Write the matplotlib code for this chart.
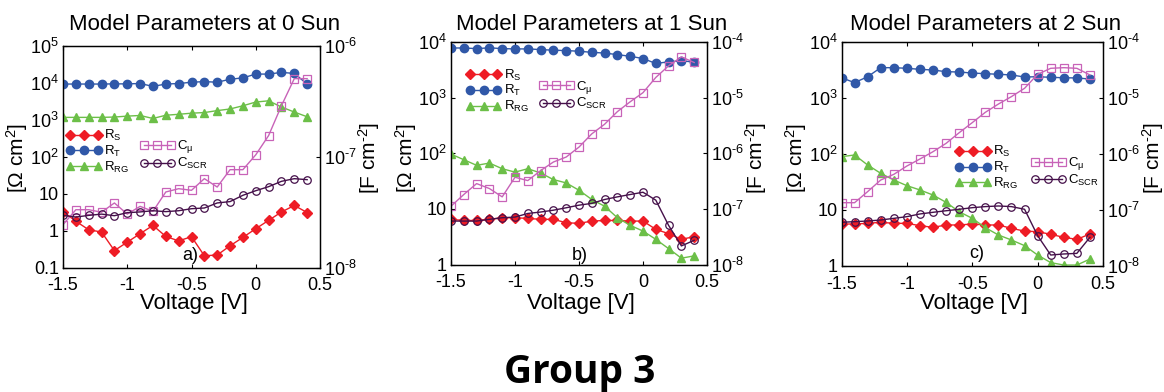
import matplotlib
matplotlib.use("Agg")
import matplotlib.pyplot as plt
from matplotlib.ticker import FixedLocator, FixedFormatter, NullLocator

plt.rcParams['font.family'] = ['Liberation Sans', 'DejaVu Sans']
plt.rcParams['mathtext.fontset'] = 'custom'
plt.rcParams['mathtext.rm'] = 'Liberation Sans'
plt.rcParams['mathtext.it'] = 'Liberation Sans:italic'
plt.rcParams['mathtext.bf'] = 'Liberation Sans:bold'

# ---------------- data ----------------
voltage = [-1.5, -1.4, -1.3, -1.2, -1.1, -1.0, -0.9, -0.8, -0.7, -0.6,
           -0.5, -0.4, -0.3, -0.2, -0.1, 0.0, 0.1, 0.2, 0.3, 0.4]

# 0 Sun
rs_0 = [3.3, 1.8, 1.06, 0.92, 0.29, 0.49, 0.83, 1.39, 0.70, 0.53,
        0.69, 0.21, 0.22, 0.39, 0.66, 1.13, 1.9, 3.2, 4.8, 3.1]
rt_0 = [9200, 9200, 9200, 9200, 9300, 9300, 9500, 7960, 9200, 9500,
        10300, 10700, 10300, 12400, 13500, 17100, 17100, 19000, 17800, 9200]
rrg_0 = [1156, 1156, 1156, 1156, 1180, 1250, 1300, 1080, 1320, 1400,
         1500, 1560, 1760, 1950, 2380, 3000, 3240, 2200, 1610, 1200]
cmu_0 = [2.44e-8, 3.33e-8, 3.33e-8, 3.16e-8, 3.83e-8, 3.04e-8, 3.57e-8, 3.22e-8, 4.81e-8, 5.15e-8,
         4.98e-8, 6.34e-8, 5.33e-8, 7.64e-8, 7.64e-8, 1.04e-7, 1.55e-7, 2.88e-7, 5.05e-7, 5.05e-7]
cscr_0 = [2.96e-8, 2.86e-8, 2.96e-8, 3.04e-8, 2.94e-8, 3.13e-8, 3.18e-8, 3.26e-8, 3.20e-8, 3.26e-8,
          3.40e-8, 3.45e-8, 3.83e-8, 3.94e-8, 4.49e-8, 4.94e-8, 5.37e-8, 6.00e-8, 6.34e-8, 6.21e-8]

# 1 Sun
rs_1 = [6.5, 6.2, 6.2, 6.5, 6.95, 6.95, 6.76, 6.5, 6.5, 5.65,
        5.5, 6.05, 6.2, 6.2, 6.05, 6.05, 4.3, 3.59, 2.84, 3.17]
rt_1 = [7900, 7900, 7700, 7950, 7700, 7600, 7600, 7400, 7200, 7100,
        6900, 6600, 6400, 6000, 5600, 5100, 4160, 4450, 4650, 4400]
rrg_1 = [97, 77, 61, 67, 53, 46, 53, 44.4, 33.8, 29.4,
         21.7, 14.8, 11.2, 6.95, 5.06, 4.0, 2.84, 1.93, 1.30, 1.43]
cmu_1 = [1.12e-7, 1.82e-7, 2.86e-7, 2.33e-7, 1.65e-7, 3.72e-7, 3.24e-7, 4.9e-7, 7.0e-7, 8.6e-7,
         1.30e-6, 2.25e-6, 3.35e-6, 5.65e-6, 8.5e-6, 1.24e-5, 2.33e-5, 3.77e-5, 5.46e-5, 4.33e-5]
cscr_1 = [6.05e-8, 6.05e-8, 6.05e-8, 6.5e-8, 6.95e-8, 7.14e-8, 8.3e-8, 8.8e-8, 9.5e-8, 1.05e-7,
          1.17e-7, 1.26e-7, 1.48e-7, 1.65e-7, 1.82e-7, 2.0e-7, 1.44e-7, 5.06e-8, 2.16e-8, 2.73e-8]

# 2 Sun
rs_2 = [5.62, 5.62, 5.78, 6.03, 5.78, 5.78, 5.25, 4.9, 5.4, 5.4,
        5.62, 5.4, 5.4, 4.7, 4.2, 4.1, 3.68, 3.25, 2.99, 3.73]
rt_2 = [2300, 1880, 2400, 3480, 3480, 3390, 3250, 3160, 2950, 2910,
        2790, 2720, 2650, 2580, 2370, 2400, 2340, 2300, 2280, 2180]
rrg_2 = [89.6, 96, 63.6, 45.2, 34.3, 27.2, 22.8, 18.5, 13.7, 9.3,
         7.1, 4.84, 3.58, 2.91, 2.31, 1.57, 1.15, 1.04, 1.04, 1.33]
cmu_2 = [1.35e-7, 1.35e-7, 2.13e-7, 3.43e-7, 4.33e-7, 6.1e-7, 8.15e-7, 1.10e-6, 1.55e-6, 2.40e-6,
         3.63e-6, 5.55e-6, 7.8e-6, 1.06e-5, 1.49e-5, 2.65e-5, 3.39e-5, 3.48e-5, 3.39e-5, 2.58e-5]
cscr_2 = [6.03e-8, 6.19e-8, 6.36e-8, 6.63e-8, 7.1e-8, 7.6e-8, 8.5e-8, 9.1e-8, 9.7e-8, 1.03e-7,
          1.10e-7, 1.15e-7, 1.18e-7, 1.15e-7, 1.03e-7, 3.48e-8, 1.57e-8, 1.64e-8, 1.68e-8, 3.25e-8]

titles = ["Model Parameters at 0 Sun", "Model Parameters at 1 Sun", "Model Parameters at 2 Sun"]
panel_tags = ["a)", "b)", "c)"]
x_ticks = [-1.5, -1.0, -0.5, 0.0, 0.5]
x_ticklabels = ["-1.5", "-1", "-0.5", "0", "0.5"]
left_ticks_a = [0.1, 1, 10, 1e2, 1e3, 1e4, 1e5]
left_labels_a = ["0.1", "1", "10", "$10^{2}$", "$10^{3}$", "$10^{4}$", "$10^{5}$"]
right_ticks_a = [1e-8, 1e-7, 1e-6]
right_labels_a = ["$10^{\u20108}$", "$10^{\u20107}$", "$10^{\u20106}$"]
left_ticks_bc = [1, 10, 1e2, 1e3, 1e4]
left_labels_bc = ["1", "10", "$10^{2}$", "$10^{3}$", "$10^{4}$"]
right_ticks_bc = [1e-8, 1e-7, 1e-6, 1e-5, 1e-4]
right_labels_bc = ["$10^{\u20108}$", "$10^{\u20107}$", "$10^{\u20106}$", "$10^{\u20105}$", "$10^{\u20104}$"]

series_labels = [r"R$_\mathregular{S}$", r"R$_\mathregular{T}$", r"R$_\mathregular{RG}$",
                 r"C$_\mathregular{μ}$", r"C$_\mathregular{SCR}$"]

# ---------------- styling ----------------
W, H = 1164, 392
C_RS = '#ee1c25'
C_RT = '#3058a8'
C_RG = '#6cbf48'
C_MU = '#c863b8'
C_SC = '#45104a'

fig = plt.figure(figsize=(W / 100, H / 100), dpi=100)

# axes boxes in pixels: left, right, top, bottom
boxes = [(63, 320, 45.7, 267.7), (451, 707, 42.3, 264.5), (841.5, 1103, 42, 266)]

panels = [
    dict(rs=rs_0, rt=rt_0, rrg=rrg_0, cmu=cmu_0, cscr=cscr_0,
         lylim=(0.1, 1e5), rylim=(1e-8, 1e-6),
         lt=left_ticks_a, ll=left_labels_a, rt_=right_ticks_a, rl=right_labels_a,
         leg1=(0.0136, 0.628), leg2=(0.298, 0.582), tag=(0.494, 0.054),
         title_x=205, ylab_l=17, ylab_r=369),
    dict(rs=rs_1, rt=rt_1, rrg=rrg_1, cmu=cmu_1, cscr=cscr_1,
         lylim=(1, 1e4), rylim=(1e-8, 1e-4),
         lt=left_ticks_bc, ll=left_labels_bc, rt_=right_ticks_bc, rl=right_labels_bc,
         leg1=(0.0605, 0.886), leg2=(0.342, 0.837), tag=(0.504, 0.042),
         title_x=592, ylab_l=406, ylab_r=756),
    dict(rs=rs_2, rt=rt_2, rrg=rrg_2, cmu=cmu_2, cscr=cscr_2,
         lylim=(1, 1e4), rylim=(1e-8, 1e-4),
         lt=left_ticks_bc, ll=left_labels_bc, rt_=right_ticks_bc, rl=right_labels_bc,
         leg1=(0.436, 0.543), leg2=(0.723, 0.494), tag=(0.518, 0.058),
         title_x=986, ylab_l=796, ylab_r=1153),
]

tick_fs = 13
lab_fs = 15
leg_fs = 9.5

for i, (p, (l, r, t, b)) in enumerate(zip(panels, boxes)):
    ax = fig.add_axes([l / W, 1 - b / H, (r - l) / W, (b - t) / H])
    ax2 = ax.twinx()

    h1, = ax.plot(voltage, p['rs'], '-', color=C_RS, marker='D', ms=4.8, lw=1.0,
                  mec=C_RS, mfc=C_RS, label=series_labels[0], zorder=3)
    h2, = ax.plot(voltage, p['rt'], '-', color=C_RT, marker='o', ms=6.0, lw=1.0,
                  mec=C_RT, mfc=C_RT, label=series_labels[1], zorder=3)
    h3, = ax.plot(voltage, p['rrg'], '-', color=C_RG, marker='^', ms=6.0, lw=1.0,
                  mec=C_RG, mfc=C_RG, label=series_labels[2], zorder=3)
    h4, = ax2.plot(voltage, p['cmu'], '-', color=C_MU, marker='s', ms=5.2, lw=1.0,
                   mec=C_MU, mfc='none', mew=0.9, label=series_labels[3])
    h5, = ax2.plot(voltage, p['cscr'], '-', color=C_SC, marker='o', ms=5.4, lw=1.0,
                   mec=C_SC, mfc='none', mew=0.9, label=series_labels[4])

    ax.set_yscale('log')
    ax2.set_yscale('log')
    ax.set_xlim(-1.5, 0.5)
    ax.set_ylim(*p['lylim'])
    ax2.set_ylim(*p['rylim'])

    ax.xaxis.set_major_locator(FixedLocator(x_ticks))
    ax.xaxis.set_major_formatter(FixedFormatter(x_ticklabels))
    ax.yaxis.set_major_locator(FixedLocator(p['lt']))
    ax.yaxis.set_major_formatter(FixedFormatter(p['ll']))
    ax.yaxis.set_minor_locator(NullLocator())
    ax2.yaxis.set_major_locator(FixedLocator(p['rt_']))
    ax2.yaxis.set_major_formatter(FixedFormatter(p['rl']))
    ax2.yaxis.set_minor_locator(NullLocator())

    ax.tick_params(axis='x', direction='in', length=3, width=0.8, top=True,
                   labelsize=tick_fs, pad=7)
    ax.tick_params(axis='y', direction='in', length=3, width=0.8, right=False,
                   labelsize=tick_fs, pad=3)
    ax2.tick_params(axis='y', direction='in', length=3, width=0.8,
                    labelsize=tick_fs, pad=3)
    for a in (ax, ax2):
        for s in a.spines.values():
            s.set_linewidth(0.9)
            s.set_color('black')

    ax.legend(handles=[h1, h2, h3], loc='upper left', bbox_to_anchor=p['leg1'],
              frameon=False, numpoints=3, fontsize=leg_fs, handlelength=2.65,
              handletextpad=0.2, labelspacing=0.05, borderpad=0, borderaxespad=0)
    ax2.legend(handles=[h4, h5], loc='upper left', bbox_to_anchor=p['leg2'],
               frameon=False, numpoints=3, fontsize=leg_fs, handlelength=2.65,
               handletextpad=0.2, labelspacing=0.05, borderpad=0, borderaxespad=0)

    ax.text(p['tag'][0], p['tag'][1], panel_tags[i], transform=ax.transAxes,
            ha='center', va='center', fontsize=13)

    fig.text(p['title_x'] / W, 1 - 24 / H, titles[i], ha='center', va='center', fontsize=16)
    fig.text(((l + r) / 2 + 2) / W, 1 - 304 / H, "Voltage [V]", ha='center', va='center',
             fontsize=16)
    fig.text(p['ylab_l'] / W, 1 - 158 / H, r"[$\Omega$ cm$^{2}$]", ha='center', va='center',
             rotation=90, fontsize=lab_fs)
    fig.text(p['ylab_r'] / W, 1 - 158 / H, "[F cm$^{\u20102}$]", ha='center', va='center',
             rotation=90, fontsize=lab_fs)

fig.text(580 / W, 1 - 372 / H, "Group 3", ha='center', va='center', fontsize=28,
         fontweight='bold', family=['Open Sans', 'DejaVu Sans'])

fig.savefig("out.png", dpi=100)
